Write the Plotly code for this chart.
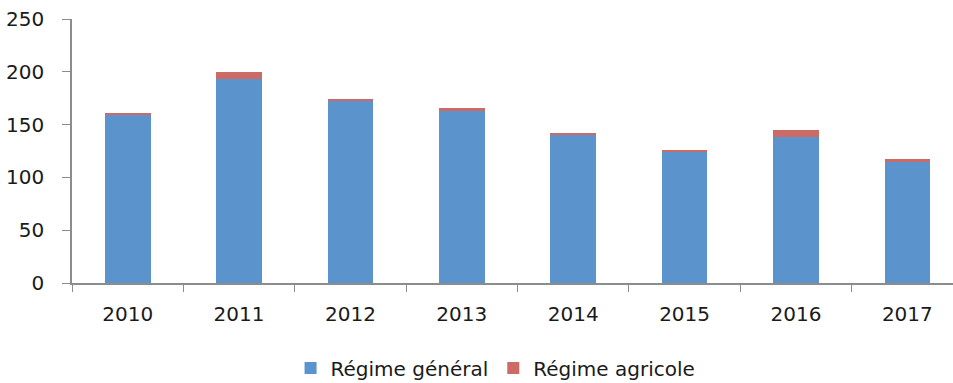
import plotly.graph_objects as go

years = ["2010", "2011", "2012", "2013", "2014", "2015", "2016", "2017"]
regime_general = [159, 193, 172, 163, 140, 124, 138, 115]
regime_agricole = [2, 7, 2.5, 2.5, 2, 2, 7, 2]

BLUE = "#5B93CD"
RED = "#CC6B66"
AXIS = "#8C8C8C"
FONT = "DejaVu Sans"

fig = go.Figure()
fig.add_trace(go.Bar(x=years, y=regime_general, name="Régime général",
                     marker=dict(color=BLUE, line=dict(width=0))))
fig.add_trace(go.Bar(x=years, y=regime_agricole, name="Régime agricole",
                     marker=dict(color=RED, line=dict(width=0))))

fig.update_layout(
    barmode="stack",
    bargap=0.59,
    width=953, height=383,
    margin=dict(l=72, r=0, t=19, b=100),
    paper_bgcolor="white", plot_bgcolor="white",
    font=dict(family=FONT, size=20, color="#1a1a1a"),
    legend=dict(orientation="h", traceorder="normal",
                xref="container", x=0.52, xanchor="center",
                yref="container", y=0.039, yanchor="middle",
                font=dict(size=20), itemwidth=30, tracegroupgap=0),
)
fig.update_xaxes(
    type="category", range=[-0.5, 7.41],
    showline=True, linecolor=AXIS, linewidth=1.5,
    ticks="outside", tickson="boundaries", ticklen=7, tickcolor=AXIS,
    ticklabelstandoff=12,
    showgrid=False, zeroline=False,
)
fig.update_yaxes(
    range=[0, 250], dtick=50,
    showline=True, linecolor=AXIS, linewidth=1.5,
    ticks="outside", ticklen=8, tickcolor=AXIS,
    ticklabelstandoff=14,
    showgrid=False, zeroline=False,
)

fig.write_html("out.html")
